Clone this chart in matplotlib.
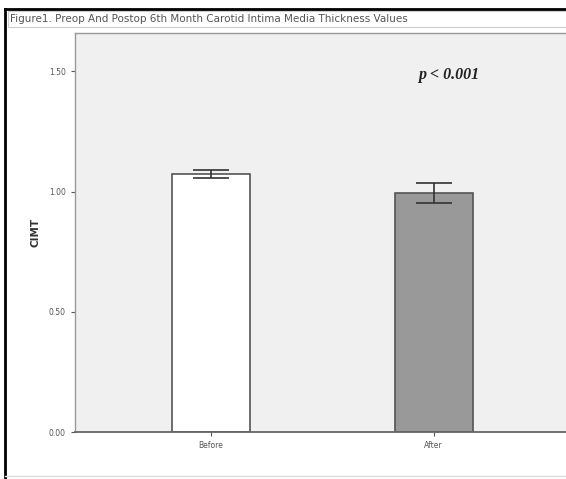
import matplotlib.pyplot as plt
from matplotlib.lines import Line2D
from matplotlib.patches import Rectangle

# data
groups = ["Before", "After"]
cimt_mean = [1.075, 0.995]
cimt_err = [0.017, 0.042]
bar_colors = ["#ffffff", "#999999"]
y_ticks = [0.0, 0.5, 1.0, 1.5]
y_tick_labels = ["0.00", "0.50", "1.00", "1.50"]
title = "Figure1. Preop And Postop 6th Month Carotid Intima Media Thickness Values"

W, H = 566, 479
fig = plt.figure(figsize=(W / 100, H / 100), dpi=100)
fig.patch.set_facecolor("white")

# outer black frame (top + left)
fig.add_artist(Line2D([5 / W, 1], [1 - 9 / H, 1 - 9 / H], color="black", lw=2))
fig.add_artist(Line2D([5 / W, 5 / W], [0, 1 - 9 / H], color="black", lw=2))
# light bottom border
fig.add_artist(Line2D([5 / W, 1], [1 - 476 / H, 1 - 476 / H], color="#dddddd", lw=1))

# title box
fig.add_artist(Rectangle((8 / W, 1 - 27 / H), 1, 16 / H, transform=fig.transFigure,
                         facecolor="white", edgecolor="#cccccc", lw=0.8))
fig.text(10 / W, 1 - 19 / H, title, fontsize=7.5, color="#555555", va="center", ha="left")

ax = fig.add_axes([75 / W, 1 - 432 / H, (W - 75) / W + 0.01, (432 - 33) / H])
ax.set_facecolor("#f0f0f0")

x = [0, 1]
ax.bar(x, cimt_mean, width=0.35, color=bar_colors, edgecolor="#555555", linewidth=1.2, zorder=2)
ax.errorbar(x, cimt_mean, yerr=cimt_err, fmt="none", ecolor="#333333", elinewidth=1.2,
            capsize=13, capthick=1.2, zorder=3)

ax.set_xlim(-0.61, 1.62)
ax.set_ylim(0, 1.66)
ax.set_yticks(y_ticks)
ax.set_yticklabels(y_tick_labels)
ax.set_xticks(x)
ax.set_xticklabels(groups)
ax.tick_params(axis="both", labelsize=5.5, colors="#555555", length=3, width=0.8)
ax.set_ylabel("CIMT", fontsize=7.5, fontweight="bold", color="#333333", labelpad=6)

for side in ["top", "left"]:
    ax.spines[side].set_color("#999999")
    ax.spines[side].set_linewidth(1)
ax.spines["bottom"].set_color("#666666")
ax.spines["bottom"].set_linewidth(1.3)
ax.spines["right"].set_visible(False)

ax.text(1.07, 1.485, "p < 0.001", fontsize=11.5, fontweight="bold", style="italic",
        family="Liberation Serif", color="#222222", ha="center", va="center")

fig.savefig("out.png", dpi=100)
